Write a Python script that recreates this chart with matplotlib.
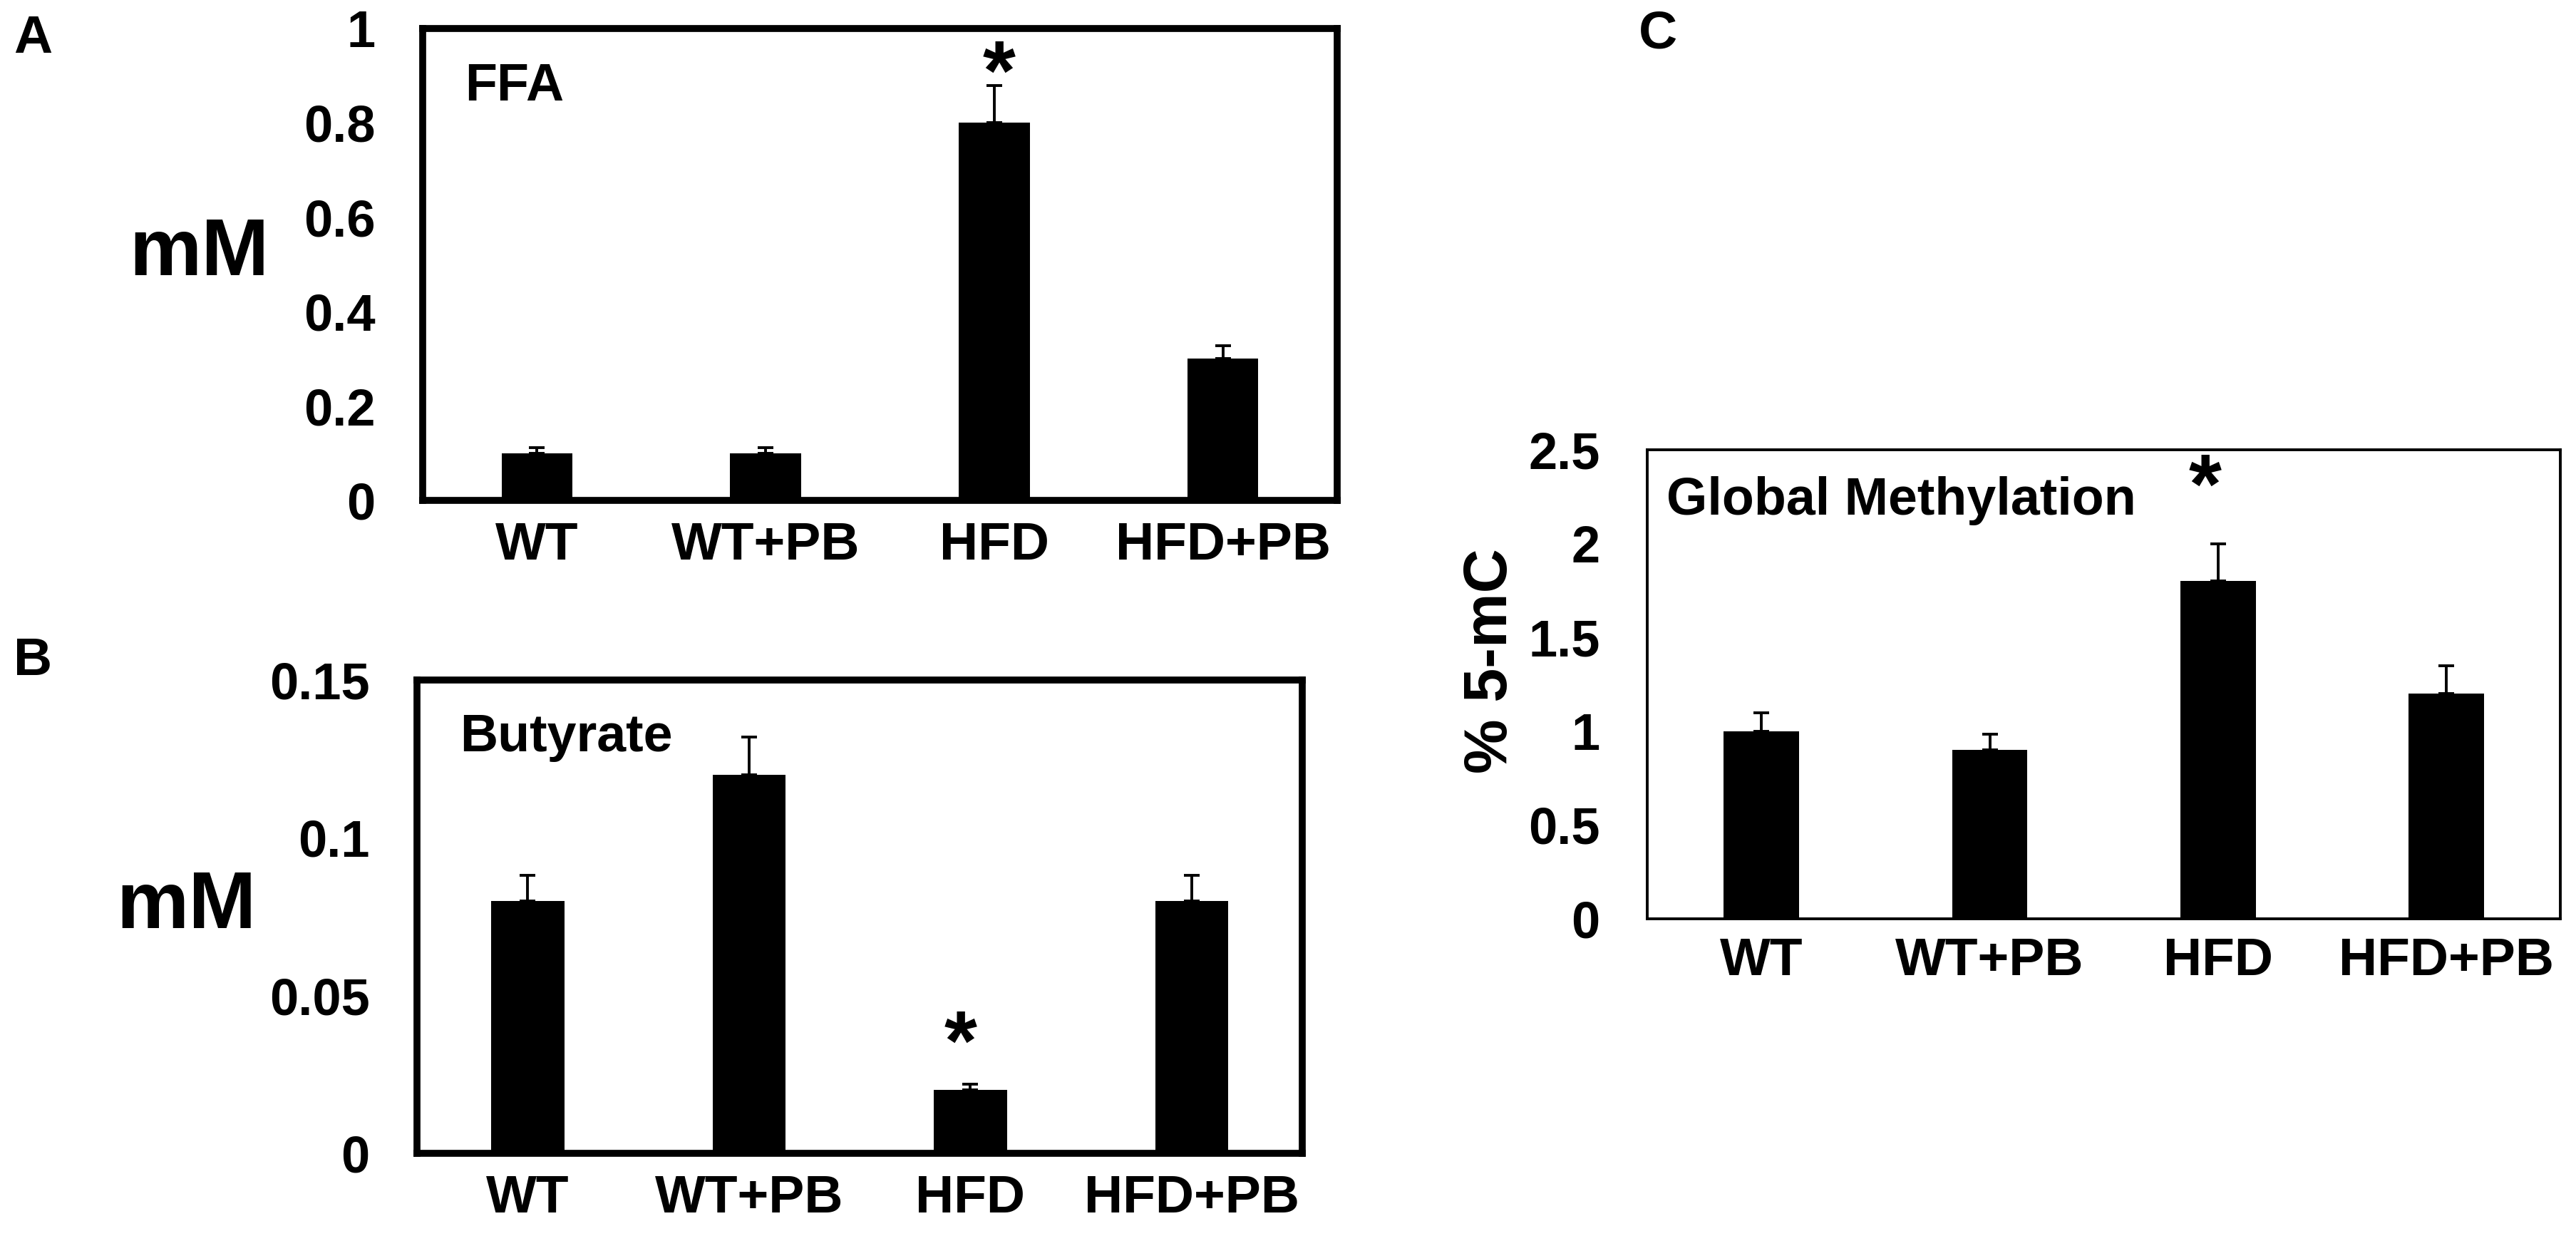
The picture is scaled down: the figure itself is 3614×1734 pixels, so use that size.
import numpy as np
import matplotlib
matplotlib.use("Agg")
from matplotlib import pyplot as plt
from matplotlib.ticker import FormatStrFormatter

plt.rcParams['font.family'] = ['Liberation Sans', 'DejaVu Sans']
plt.rcParams['font.weight'] = 'bold'

groups = ["WT", "WT+PB", "HFD", "HFD+PB"]

# A: free fatty acids (mM)
ffa = [0.10, 0.10, 0.80, 0.30]
ffa_err = [0.011, 0.011, 0.079, 0.027]
ffa_star = (2.02, 0.849)       # asterisk over HFD (x, baseline y)

# B: butyrate (mM)
but = [0.080, 0.120, 0.020, 0.080]
but_err = [0.008, 0.012, 0.002, 0.008]
but_star = (1.955, 0.0264)

# C: global methylation (% 5-mC)
meth = [1.0, 0.9, 1.8, 1.2]
meth_err = [0.10, 0.085, 0.20, 0.15]
meth_star = (1.944, 2.162)


def panel(ax, vals, errs, ticks, title, star, lw, bar_w, title_xy, xpad):
    x = np.arange(len(groups))
    ax.bar(x, vals, width=bar_w, color="black", zorder=2)
    ax.errorbar(x, vals, yerr=[np.zeros(len(errs)), errs], fmt="none",
                ecolor="black", elinewidth=2.8, capsize=8, capthick=2.8, zorder=3)
    ax.set_xlim(-0.5, 3.5)
    ax.set_ylim(ticks[0], ticks[-1])
    ax.set_yticks(ticks)
    ax.yaxis.set_major_formatter(FormatStrFormatter("%g"))
    ax.set_xticks(x)
    ax.set_xticklabels(groups, fontsize=54, fontweight="bold")
    ax.tick_params(axis="y", length=0, pad=48, labelsize=52)
    ax.tick_params(axis="x", length=0, pad=xpad)
    for s in ax.spines.values():
        s.set_linewidth(lw)
        s.set_zorder(4)
    ax.text(title_xy[0], title_xy[1], title, transform=ax.transAxes,
            fontsize=53, fontweight="bold", ha="left", va="top")
    ax.text(star[0], star[1], "*", fontsize=85, fontweight="bold",
            ha="center", va="baseline")


fig = plt.figure(figsize=(36.14, 17.34), dpi=100)

axA = fig.add_axes([0.1641, 0.5952, 0.3550, 0.3818])
panel(axA, ffa, ffa_err, [0, 0.2, 0.4, 0.6, 0.8, 1.0], "FFA", ffa_star,
      7.0, 0.31, (0.046, 0.929), 21)
axA.text(-0.168, 0.521, "mM", transform=axA.transAxes, fontsize=82,
         fontweight="bold", ha="right", va="center")

axB = fig.add_axes([0.1619, 0.0669, 0.3437, 0.3829])
panel(axB, but, but_err, [0, 0.05, 0.10, 0.15], "Butyrate", but_star,
      7.0, 0.33, (0.048, 0.931), 21)
axB.text(-0.182, 0.52, "mM", transform=axB.transAxes, fontsize=82,
         fontweight="bold", ha="right", va="center")

axC = fig.add_axes([0.6395, 0.2566, 0.3545, 0.3795])
panel(axC, meth, meth_err, [0, 0.5, 1.0, 1.5, 2.0, 2.5], "Global Methylation",
      meth_star, 2.8, 0.33, (0.021, 0.944), 18)
axC.text(-0.171, 0.55, "% 5-mC", transform=axC.transAxes, fontsize=62,
         fontweight="bold", ha="center", va="center", rotation=90)

fig.text(0.0053, 0.9885, "A", fontsize=54, fontweight="bold", ha="left", va="top")
fig.text(0.0053, 0.485, "B", fontsize=54, fontweight="bold", ha="left", va="top")
fig.text(0.636, 0.992, "C", fontsize=54, fontweight="bold", ha="left", va="top")

fig.savefig("out.png", dpi=100, facecolor="white")
